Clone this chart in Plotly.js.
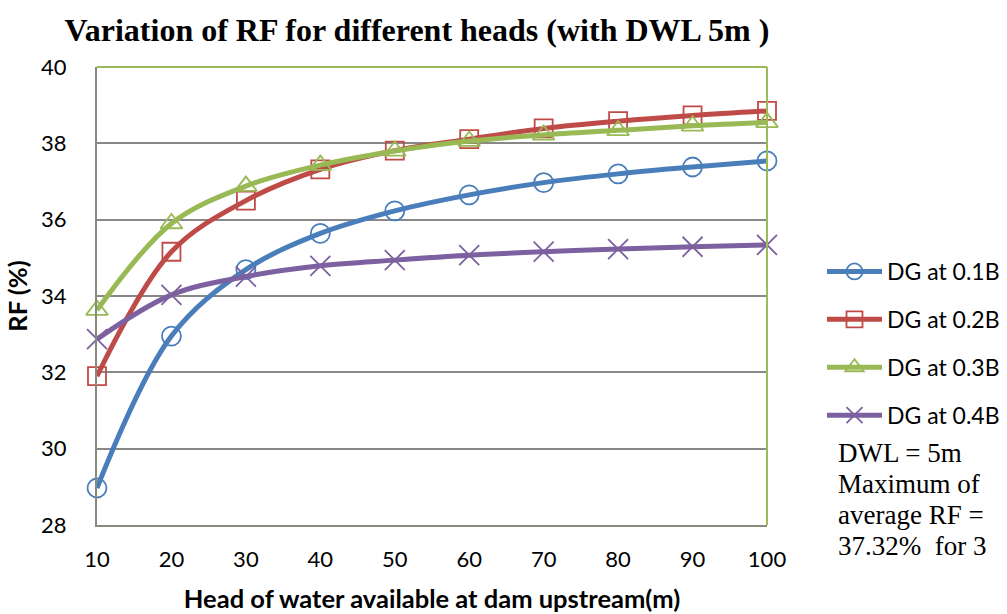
<!DOCTYPE html>
<html>
<head>
<meta charset="utf-8">
<script src="https://cdn.plot.ly/plotly-3.0.1.min.js"></script>
<style>
  html, body { margin: 0; padding: 0; background: #ffffff; }
  #chart { width: 1007px; height: 614px; }
</style>
</head>
<body>
<div id="chart"></div>
<script>
// Head of water (m)
const heads = [10, 20, 30, 40, 50, 60, 70, 80, 90, 100];

// RF (%) for each drainage gallery position
const rfDG01 = [28.97, 32.95, 34.69, 35.64, 36.23, 36.65, 36.97, 37.20, 37.38, 37.54];
const rfDG02 = [31.90, 35.16, 36.50, 37.32, 37.81, 38.11, 38.39, 38.58, 38.73, 38.85];
const rfDG03 = [33.63, 35.90, 36.88, 37.43, 37.80, 38.06, 38.22, 38.34, 38.46, 38.55];
const rfDG04 = [32.87, 34.03, 34.51, 34.79, 34.94, 35.07, 35.16, 35.23, 35.29, 35.34];

const seriesNames = ['DG at 0.1B', 'DG at 0.2B', 'DG at 0.3B', 'DG at 0.4B'];
const yTicks = [28, 30, 32, 34, 36, 38, 40];
const noteLines = ['DWL = 5m', 'Maximum of', 'average RF =', '37.32%  for 3'];

const colors = ['#4A7EBB', '#BE4B48', '#98B954', '#7D60A0'];
const symbols = ['circle-open', 'square-open', 'triangle-up-open', 'x-thin-open'];
const sizes = [19, 18, 19, 20];

function makeTrace(vals, i) {
  return {
    x: heads,
    y: vals,
    name: seriesNames[i],
    legendgroup: 'g' + i,
    type: 'scatter',
    mode: 'lines+markers',
    line: { color: colors[i], width: 5, shape: 'spline', smoothing: 1 },
    marker: {
      symbol: symbols[i],
      size: sizes[i],
      color: colors[i],
      line: { color: colors[i], width: 1.8 }
    },
    cliponaxis: false
  };
}

const data = [rfDG01, rfDG02, rfDG03, rfDG04].map(makeTrace);

const sansFont = 'Lato, "Open Sans", sans-serif';
const serifFont = '"Liberation Serif", "Times New Roman", serif';

const annotations = noteLines.map((t, k) => ({
  xref: 'paper', yref: 'paper',
  x: (836 - 97) / 670, y: 1 - (453 + 31 * k - 67) / 458,
  xanchor: 'left', yanchor: 'middle',
  text: t, showarrow: false,
  font: { family: serifFont, size: 27, color: '#000000' }
}));

const layout = {
  width: 1007,
  height: 614,
  paper_bgcolor: '#ffffff',
  plot_bgcolor: '#ffffff',
  margin: { l: 97, r: 240, t: 67, b: 89 },
  title: {
    text: 'Variation of RF for different heads (with DWL 5m )',
    font: { family: serifFont, size: 32, color: '#000000', weight: 'bold' },
    x: 417 / 1007, xanchor: 'center', xref: 'container',
    y: 1 - 30 / 614, yanchor: 'middle', yref: 'container'
  },
  xaxis: {
    range: [10, 100],
    tickvals: heads,
    ticktext: heads.map(String),
    showgrid: false,
    zeroline: false,
    showline: true,
    linecolor: '#878B7B',
    linewidth: 2,
    mirror: false,
    ticks: '',
    ticklabelstandoff: 14,
    tickfont: { family: sansFont, size: 22, color: '#000000' },
    title: {
      text: 'Head of water available at dam upstream(m)',
      font: { family: sansFont, size: 25.5, color: '#000000', weight: 'bold' },
      standoff: 19
    }
  },
  yaxis: {
    range: [28, 40],
    tickvals: yTicks,
    showgrid: true,
    gridcolor: '#888888',
    gridwidth: 2,
    zeroline: false,
    showline: true,
    linecolor: '#878B7B',
    linewidth: 2,
    ticks: '',
    ticklabelstandoff: 24,
    tickfont: { family: sansFont, size: 22, color: '#000000' },
    title: {
      text: 'RF (%)',
      font: { family: sansFont, size: 25.5, color: '#000000', weight: 'bold' },
      standoff: 6
    }
  },
  shapes: [
    // green plot-area frame on the top and right edges
    { type: 'line', xref: 'paper', yref: 'paper', x0: 0, x1: 1, y0: 1, y1: 1,
      line: { color: '#9BBB59', width: 2 } },
    { type: 'line', xref: 'paper', yref: 'paper', x0: 1, x1: 1, y0: 0, y1: 1,
      line: { color: '#9BBB59', width: 2 } }
  ],
  annotations: annotations,
  showlegend: true,
  legend: {
    xref: 'container', yref: 'container',
    x: 822 / 1007, y: 1 - 250 / 614,
    xanchor: 'left', yanchor: 'top',
    traceorder: 'grouped',
    tracegroupgap: 15,
    itemwidth: 55,
    font: { family: sansFont, size: 23, color: '#000000' },
    bgcolor: 'rgba(0,0,0,0)'
  }
};

Plotly.newPlot('chart', data, layout, { displayModeBar: false, staticPlot: true });
</script>
</body>
</html>
